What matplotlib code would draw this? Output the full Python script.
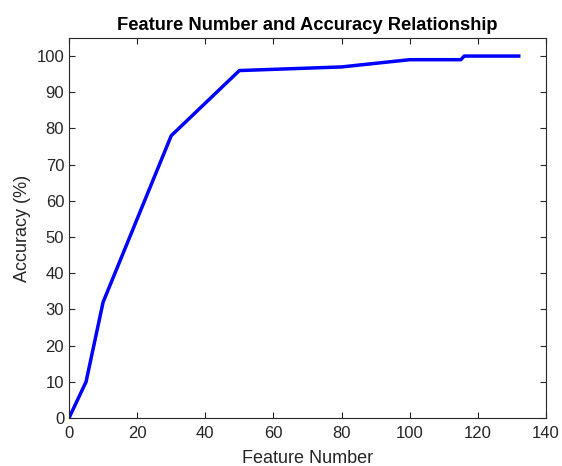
import matplotlib.pyplot as plt

plt.rcParams['font.family'] = ['Liberation Sans', 'DejaVu Sans']

# Данные кривой
features = [0, 5, 10, 30, 50, 80, 100, 115, 116, 132]
accuracy = [0, 10, 32, 78, 96, 97, 99, 99, 100, 100]

fig = plt.figure(figsize=(5.62, 4.66), dpi=100)
ax = fig.add_axes([0.1228, 0.103, 0.8487, 0.8155])
ax.plot(features, accuracy, color='#0000ff', linewidth=2.5)

ax.set_xlim(0, 140)
ax.set_ylim(0, 105)
ax.set_xticks(range(0, 141, 20))
ax.set_yticks(range(0, 101, 10))
ax.tick_params(direction='in', top=True, right=True, labelsize=12, color='#262626',
               labelcolor='#262626', length=4)
ax.tick_params(axis='x', pad=6)
for s in ax.spines.values():
    s.set_color('#262626')
    s.set_linewidth(0.8)

ax.set_xlabel('Feature Number', fontsize=13, labelpad=6, color='#262626')
ax.set_ylabel('Accuracy (%)', fontsize=13, labelpad=4, color='#262626')
ax.set_title('Feature Number and Accuracy Relationship', fontsize=13.2, fontweight='bold', pad=6)

fig.savefig('out.png', dpi=100)
